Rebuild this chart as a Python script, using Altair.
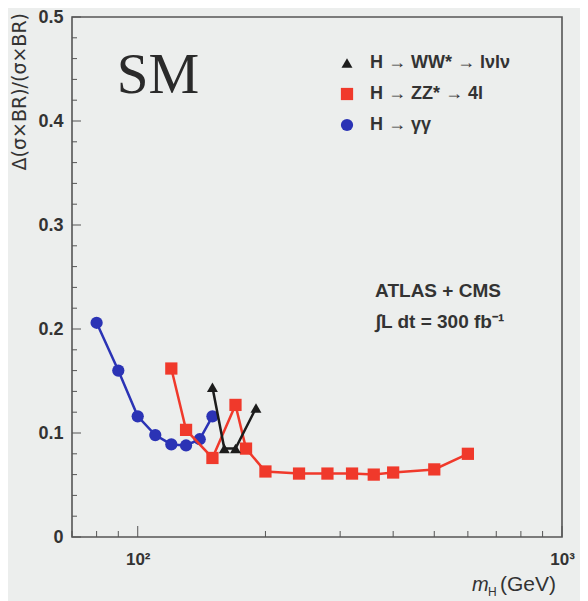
import altair as alt
import pandas as pd

# ---- data ----
gg_mass = [80, 90, 100, 110, 120, 130, 140, 150]
gg_val = [0.206, 0.160, 0.116, 0.098, 0.089, 0.088, 0.094, 0.116]

zz_mass = [120, 130, 150, 170, 180, 200, 240, 280, 320, 360, 400, 500, 600]
zz_val = [0.162, 0.103, 0.076, 0.127, 0.085, 0.063, 0.061, 0.061, 0.061, 0.060, 0.062, 0.065, 0.080]

ww_mass = [150, 160, 170, 190]
ww_val = [0.144, 0.085, 0.085, 0.124]

series_names = ["H → WW* → lνlν", "H → ZZ* → 4l", "H → γγ"]
series_colors = ["#1c1c1c", "#f0392b", "#2b33b5"]
series_shapes = ["triangle-up", "square", "circle"]
series_sizes = [120, 150, 150]

x_label_values = [100, 1000]
x_minor_ticks = [70, 80, 90, 200, 300, 400, 500, 600, 700, 800, 900]
y_label_values = [0, 0.1, 0.2, 0.3, 0.4, 0.5]
y_minor_ticks = [0.02, 0.04, 0.06, 0.08, 0.12, 0.14, 0.16, 0.18, 0.22, 0.24, 0.26, 0.28,
                 0.32, 0.34, 0.36, 0.38, 0.42, 0.44, 0.46, 0.48]

y_title = "Δ(σ×BR)/(σ×BR)"
sm_text = "SM"
exp_text = "ATLAS + CMS"
lumi_text = "∫L dt = 300 fb⁻¹"

TXT = "#333333"
FONT = "Liberation Sans"

xscale = alt.Scale(type="log", domain=[70, 1000], nice=False)
yscale = alt.Scale(domain=[0, 0.5], nice=False)

xaxis = alt.Axis(values=x_label_values,
                 labelExpr="datum.value == 100 ? '10²' : '10³'",
                 title=None, ticks=False, domain=False, grid=False,
                 labelFont=FONT, labelFontSize=17, labelFontWeight="bold",
                 labelColor=TXT, labelPadding=14, labelFlush=False)
yaxis = alt.Axis(values=y_label_values,
                 labelExpr="datum.value == 0 ? '0' : format(datum.value, '.1f')",
                 title=None, ticks=False, domain=False, grid=False,
                 labelFont=FONT, labelFontSize=18, labelFontWeight="bold",
                 labelColor=TXT, labelPadding=9)

X = alt.X("m:Q", scale=xscale, axis=xaxis)
Y = alt.Y("v:Q", scale=yscale, axis=yaxis)

layers = []

# minor ticks (inside the frame)
xt = pd.DataFrame({"m": x_minor_ticks})
layers.append(alt.Chart(xt).mark_rule(color="#555", strokeWidth=1).encode(
    x=X, y=alt.value(520), y2=alt.value(514)))
xtm = pd.DataFrame({"m": x_label_values})
layers.append(alt.Chart(xtm).mark_rule(color="#555", strokeWidth=1).encode(
    x=X, y=alt.value(520), y2=alt.value(509)))
yt = pd.DataFrame({"v": y_minor_ticks})
layers.append(alt.Chart(yt).mark_rule(color="#555", strokeWidth=1).encode(
    y=Y, x=alt.value(0), x2=alt.value(5)))
ytm = pd.DataFrame({"v": y_label_values})
layers.append(alt.Chart(ytm).mark_rule(color="#555", strokeWidth=1).encode(
    y=Y, x=alt.value(0), x2=alt.value(9)))

data_sets = [
    (gg_mass, gg_val, 2),
    (zz_mass, zz_val, 1),
    (ww_mass, ww_val, 0),
]
for mass, val, idx in data_sets:
    df = pd.DataFrame({"m": mass, "v": val})
    c = series_colors[idx]
    layers.append(alt.Chart(df).mark_line(color=c, strokeWidth=2.5).encode(x=X, y=Y))
    layers.append(alt.Chart(df).mark_point(shape=series_shapes[idx], filled=True,
                                           size=series_sizes[idx], color=c,
                                           opacity=1).encode(x=X, y=Y))

# legend (custom)
leg_y = [46, 77, 108]
for i in range(3):
    layers.append(alt.Chart(pd.DataFrame({"a": [0]})).mark_point(
        shape=series_shapes[i], filled=True, size=series_sizes[i],
        color=series_colors[i], opacity=1).encode(
        x=alt.value(275), y=alt.value(leg_y[i])))
    layers.append(alt.Chart(pd.DataFrame({"t": [series_names[i]]})).mark_text(
        align="left", baseline="middle", font=FONT, fontSize=18, fontWeight="bold",
        color=TXT).encode(text="t:N", x=alt.value(298), y=alt.value(leg_y[i])))

# annotations
layers.append(alt.Chart(pd.DataFrame({"t": [sm_text]})).mark_text(
    align="center", baseline="alphabetic", font="Liberation Serif", fontSize=57,
    color="#2a2a2a").encode(text="t:N", x=alt.value(86), y=alt.value(76)))
layers.append(alt.Chart(pd.DataFrame({"t": [exp_text]})).mark_text(
    align="center", baseline="alphabetic", font=FONT, fontSize=19, fontWeight="bold",
    color=TXT).encode(text="t:N", x=alt.value(366), y=alt.value(280)))
layers.append(alt.Chart(pd.DataFrame({"t": [lumi_text]})).mark_text(
    align="center", baseline="alphabetic", font=FONT, fontSize=19, fontWeight="bold",
    color=TXT).encode(text="t:N", x=alt.value(368), y=alt.value(311)))

# axis titles
layers.append(alt.Chart(pd.DataFrame({"t": [y_title]})).mark_text(
    align="right", baseline="middle", angle=270, font="DejaVu Sans", fontSize=19,
    color=TXT).encode(text="t:N", x=alt.value(-52), y=alt.value(-4)))
layers.append(alt.Chart(pd.DataFrame({"t": ["m"]})).mark_text(
    align="left", baseline="alphabetic", font=FONT, fontSize=20, fontStyle="italic",
    color=TXT).encode(text="t:N", x=alt.value(400), y=alt.value(574)))
layers.append(alt.Chart(pd.DataFrame({"t": ["H"]})).mark_text(
    align="left", baseline="alphabetic", font=FONT, fontSize=12,
    color=TXT).encode(text="t:N", x=alt.value(416), y=alt.value(579)))
layers.append(alt.Chart(pd.DataFrame({"t": ["(GeV)"]})).mark_text(
    align="left", baseline="alphabetic", font=FONT, fontSize=21,
    color=TXT).encode(text="t:N", x=alt.value(428), y=alt.value(574)))

chart = alt.layer(*layers).properties(
    width=490, height=520,
    padding={"left": 64, "top": 9, "right": 18, "bottom": 64},
    autosize="none",
    background="#eceeed",
).configure_view(stroke="#555555", strokeWidth=1.6)

chart.save("out.html", embed_options={"renderer": "svg", "actions": False})
